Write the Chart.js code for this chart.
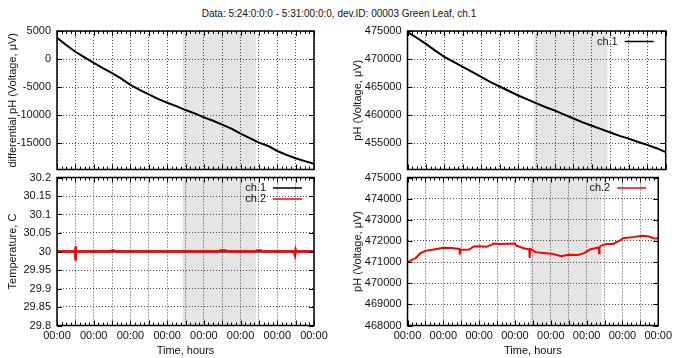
<!DOCTYPE html>
<html>
<head>
<meta charset="utf-8">
<script src="https://cdn.jsdelivr.net/npm/chart.js@4.4.1/dist/chart.umd.min.js"></script>
<style>
  html, body { margin: 0; padding: 0; background: #fff; }
  #wrap { position: relative; width: 676px; height: 358px; overflow: hidden; background: #fff; }
  #wrap canvas { position: absolute; left: 0; top: 0; }
  #title { position: absolute; left: 0; top: 8px; width: 678px; text-align: center;
           font: 10px "Liberation Sans", Arial, sans-serif; line-height: 12px; color: #111; white-space: nowrap; }
</style>
</head>
<body>
<div id="wrap">
  <div id="title">Data: 5:24:0:0:0 - 5:31:00:0:0, dev.ID: 00003 Green Leaf, ch.1</div>
  <canvas id="cDiff" width="676" height="358"></canvas>
  <canvas id="cPh1" width="676" height="358"></canvas>
  <canvas id="cTemp" width="676" height="358"></canvas>
  <canvas id="cPh2" width="676" height="358"></canvas>
</div>
<script>
// ---- time axis (days since 5/24 00:00) ----
const dayTicks = [0, 1, 2, 3, 4, 5, 6, 7];
const dayLabels = ['00:00', '00:00', '00:00', '00:00', '00:00', '00:00', '00:00', '00:00'];
const darkPeriod = [3.42, 5.42];

// ---- differential pH, ch.1 (uV) ----
const diffTime = [0, 0.25, 0.5, 0.75, 1, 1.25, 1.5, 1.75, 2, 2.25, 2.5, 2.75, 3, 3.25, 3.5,
                  3.75, 4, 4.25, 4.5, 4.75, 5, 5.25, 5.5, 5.75, 6, 6.25, 6.5, 6.75, 7];
const diffValues = [3800, 2500, 1300, 300, -700, -1600, -2500, -3500, -4600, -5500, -6300, -7100, -7800, -8400, -9100,
                    -9700, -10400, -11000, -11700, -12400, -13300, -14100, -14900, -15500, -16400, -17100, -17700, -18200, -18700];
const diffTicks = [5000, 0, -5000, -10000, -15000];

// ---- pH voltage, ch.1 (uV) ----
const ph1Time = diffTime;
const ph1Values = [474800, 473800, 472700, 471500, 470400, 469500, 468600, 467700, 466800, 465900, 465100, 464300, 463500, 462800, 462100,
                   461400, 460800, 460100, 459400, 458700, 458100, 457500, 456900, 456300, 455800, 455200, 454700, 454100, 453400];
const ph1Ticks = [475000, 470000, 465000, 460000, 455000];

// ---- temperature, C ----
const temp1Time = [0, 0.5, 0.505, 0.51, 0.52, 7];
const temp1Values = [30, 30, 29.98, 30.01, 30, 30];
const temp2Time = [0, 0.5, 0.505, 0.51, 0.515, 0.52, 1.45, 1.5, 1.55, 1.6, 4.4, 4.45, 4.6, 4.65,
                   5.4, 5.45, 5.55, 5.6, 6.45, 6.48, 6.5, 6.52, 6.55, 7];
const temp2Values = [30, 30, 29.975, 30.014, 30.0, 30, 30, 30.003, 30.003, 30, 30, 30.003, 30.003, 30,
                     30, 30.003, 30.003, 30, 30, 29.99, 30.004, 29.998, 30, 30];
const tempTicks = [30.2, 30.15, 30.1, 30.05, 30, 29.95, 29.9, 29.85, 29.8];

// ---- pH voltage, ch.2 (uV) ----
const ph2Time = [0, 0.23, 0.36, 0.5, 0.77, 1.0, 1.22, 1.4, 1.45, 1.46, 1.47, 1.49, 1.72, 1.85, 2.0, 2.2, 2.35, 2.4, 2.58,
                 3.0, 3.03, 3.26, 3.4, 3.41, 3.42, 3.45, 3.57, 3.85, 4.03, 4.3, 4.48, 4.75, 4.93, 5.11, 5.34, 5.35, 5.36,
                 5.4, 5.56, 5.74, 5.93, 6.02, 6.29, 6.56, 6.74, 6.87, 7.0];
const ph2Values = [471000, 471190, 471420, 471530, 471610, 471680, 471660, 471630, 471620, 471350, 471590, 471580, 471590,
                   471740, 471750, 471720, 471820, 471880, 471850, 471880, 471790, 471640, 471600, 471190, 471620, 471610,
                   471470, 471420, 471390, 471280, 471350, 471330, 471420, 471610, 471690, 471420, 471700, 471770, 471860,
                   471860, 472020, 472130, 472180, 472240, 472210, 472130, 472120];
const ph2Ticks = [475000, 474000, 473000, 472000, 471000, 470000, 469000, 468000];

// ---------------------------------------------------------------
const FONT = '"Liberation Sans", Arial, sans-serif';
Chart.defaults.font.family = FONT;
Chart.defaults.font.size = 11;
Chart.defaults.color = '#111';

const toPoints = (t, v) => t.map((x, i) => ({ x, y: v[i] }));
const halfDays = dayTicks.flatMap(d => d < 7 ? [d, d + 0.5] : [d]);

// grey band for the dark period, under the grid
const shadePlugin = {
  id: 'shade',
  beforeDraw(chart) {
    const { ctx, chartArea: a, scales: { x } } = chart;
    const x0 = x.getPixelForValue(darkPeriod[0]);
    const x1 = x.getPixelForValue(darkPeriod[1]);
    ctx.save();
    ctx.fillStyle = '#e5e5e5';
    ctx.fillRect(x0, a.top, x1 - x0, a.bottom - a.top);
    ctx.restore();
  }
};

// plot frame with inward tic marks (mirrored on every side)
const framePlugin = {
  id: 'frame',
  afterDraw(chart) {
    const { ctx, chartArea: a, scales: { x, y } } = chart;
    ctx.save();
    ctx.strokeStyle = '#000';
    ctx.lineWidth = 1;
    ctx.beginPath();
    for (let i = 0; i <= 56; i++) {
      const px = Math.round(x.getPixelForValue(i / 8)) + 0.5;
      const len = i % 4 === 0 ? 5 : 3;
      ctx.moveTo(px, a.bottom); ctx.lineTo(px, a.bottom - len);
      ctx.moveTo(px, a.top); ctx.lineTo(px, a.top + len);
    }
    y.ticks.forEach(t => {
      const py = Math.round(y.getPixelForValue(t.value)) + 0.5;
      ctx.moveTo(a.left, py); ctx.lineTo(a.left + 5, py);
      ctx.moveTo(a.right, py); ctx.lineTo(a.right - 5, py);
    });
    ctx.stroke();
    ctx.lineWidth = 1.5;
    ctx.strokeRect(a.left, a.top, a.right - a.left, a.bottom - a.top);
    ctx.restore();
  }
};

// key in the top right corner: label, then a line sample
const keyPlugin = {
  id: 'key',
  afterDraw(chart, args, opts) {
    if (!opts.show) return;
    const { ctx, chartArea: a } = chart;
    ctx.save();
    ctx.font = '11px ' + FONT;
    ctx.textAlign = 'right';
    ctx.textBaseline = 'middle';
    chart.data.datasets.forEach((ds, i) => {
      const yy = a.top + 10.5 + i * 11;
      ctx.fillStyle = '#111';
      ctx.fillText(ds.label, a.right - 48, yy);
      ctx.strokeStyle = ds.borderColor;
      ctx.lineWidth = 1.5;
      ctx.beginPath();
      ctx.moveTo(a.right - 41, yy);
      ctx.lineTo(a.right - 12, yy);
      ctx.stroke();
    });
    ctx.restore();
  }
};

function makeChart(id, o) {
  const fmt = o.fmt || (v => String(v));
  return new Chart(document.getElementById(id), {
    type: 'line',
    data: { datasets: o.datasets },
    plugins: [shadePlugin, framePlugin, keyPlugin],
    options: {
      responsive: false,
      animation: false,
      events: [],
      layout: { padding: { left: o.colLeft, top: o.top, right: 676 - o.right, bottom: 358 - o.bottom - o.xH } },
      elements: { point: { radius: 0 }, line: { tension: 0 } },
      plugins: { legend: { display: false }, tooltip: { enabled: false }, key: { show: o.key } },
      scales: {
        x: {
          type: 'linear', min: 0, max: 7,
          afterFit: s => { s.height = o.xH; },
          afterBuildTicks: s => { s.ticks = halfDays.map(v => ({ value: v })); },
          grid: { color: 'rgba(0,0,0,0.7)', lineWidth: 1, drawTicks: false },
          border: { display: false, dash: [1, 2] },
          ticks: {
            display: o.xLabels, autoSkip: false, maxRotation: 0, padding: 4,
            callback: v => (Number.isInteger(v) ? dayLabels[dayTicks.indexOf(v)] : '')
          },
          title: { display: o.xLabels, text: 'Time, hours', padding: { top: 0, bottom: 0 } }
        },
        y: {
          type: 'linear', min: o.yMin, max: o.yMax,
          afterFit: s => { s.width = o.left - o.colLeft; },
          afterBuildTicks: s => { s.ticks = o.yTicks.map(v => ({ value: v })); },
          grid: { color: 'rgba(0,0,0,0.7)', lineWidth: 1, drawTicks: false },
          border: { display: false, dash: [1, 2] },
          ticks: { padding: 6, callback: v => fmt(v) },
          title: { display: true, text: o.yTitle, padding: { top: 6, bottom: 0 } }
        }
      }
    }
  });
}

makeChart('cDiff', {
  colLeft: 0, left: 57, right: 314, top: 31, bottom: 169.5, xH: 0, xLabels: false, key: false,
  yMin: -19700, yMax: 5000, yTicks: diffTicks, yTitle: 'differential pH (Voltage, \u03bcV)',
  datasets: [{ label: 'ch.1', data: toPoints(diffTime, diffValues), borderColor: '#000', borderWidth: 2 }]
});

makeChart('cPh1', {
  colLeft: 345, left: 407.5, right: 665.7, top: 31, bottom: 169.5, xH: 0, xLabels: false, key: true,
  yMin: 450300, yMax: 475000, yTicks: ph1Ticks, yTitle: 'pH (Voltage, \u03bcV)',
  datasets: [{ label: 'ch.1', data: toPoints(ph1Time, ph1Values), borderColor: '#000', borderWidth: 2 }]
});

makeChart('cTemp', {
  colLeft: 0, left: 57, right: 314, top: 177.5, bottom: 325.5, xH: 32.5, xLabels: true, key: true,
  yMin: 29.8, yMax: 30.2, yTicks: tempTicks, yTitle: 'Temperature, C',
  fmt: v => String(+v.toFixed(2)),
  datasets: [
    { label: 'ch.1', data: toPoints(temp1Time, temp1Values), borderColor: '#000', borderWidth: 2, order: 1 },
    { label: 'ch.2', data: toPoints(temp2Time, temp2Values), borderColor: '#ff0000', borderWidth: 2.5, order: 0 }
  ]
});

makeChart('cPh2', {
  colLeft: 345, left: 407.5, right: 665.7, top: 177.5, bottom: 325.5, xH: 32.5, xLabels: true, key: true,
  yMin: 468000, yMax: 475000, yTicks: ph2Ticks, yTitle: 'pH (Voltage, \u03bcV)',
  datasets: [{ label: 'ch.2', data: toPoints(ph2Time, ph2Values), borderColor: '#ff0000', borderWidth: 2 }]
});
</script>
</body>
</html>
